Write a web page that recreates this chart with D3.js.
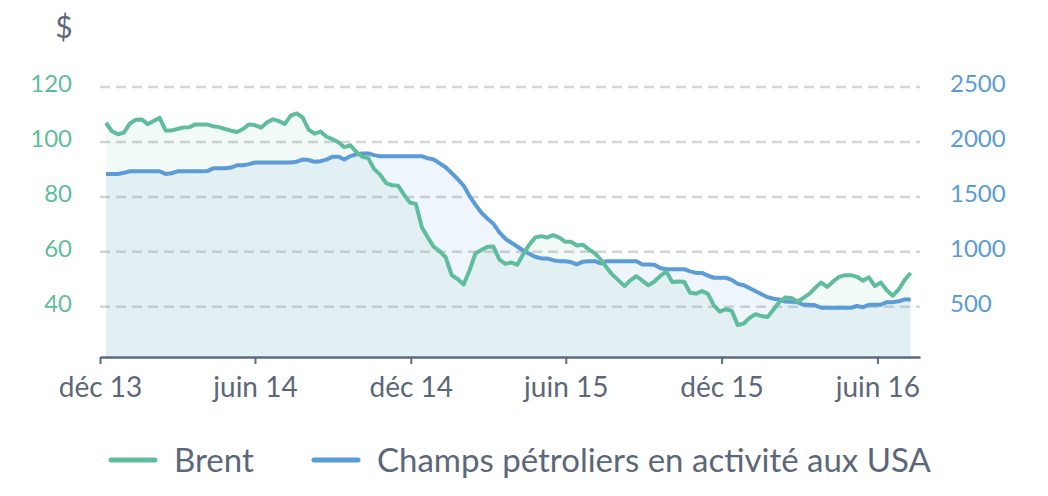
<!DOCTYPE html>
<html>
<head>
<meta charset="utf-8">
<script src="https://cdn.jsdelivr.net/npm/d3@7"></script>
<style>
  body { margin: 0; background: #fff; }
  svg text { font-family: "Source Sans Pro", Lato, sans-serif; }
</style>
</head>
<body>
<div id="chart"></div>
<script>

// weekly series, first week ending 8 Dec 2013
var first_week = new Date(2013, 11, 8);

var brent = [107.0, 103.9, 102.8, 103.4, 106.7, 108.1, 108.2, 106.5, 107.6, 108.8,
    104.2, 104.2, 104.7, 105.3, 105.4, 106.4, 106.4, 106.4, 105.7, 105.4,
    104.7, 104.1, 103.6, 104.7, 106.4, 106.1, 105.2, 107.1, 108.3, 107.6,
    106.6, 109.6, 110.4, 108.9, 104.5, 103.0, 103.8, 101.9, 101.0, 99.9,
    98.1, 98.8, 96.4, 94.6, 94.1, 90.1, 88.1, 85.0, 84.2, 84.1,
    80.8, 77.9, 77.4, 68.9, 65.2, 61.8, 60.2, 58.0, 51.5, 50.1,
    48.1, 53.2, 59.5, 60.7, 61.8, 61.9, 57.2, 55.6, 56.1, 55.3,
    59.1, 62.5, 65.2, 65.7, 65.2, 66.1, 65.3, 63.7, 63.7, 62.3,
    62.6, 60.9, 59.5, 57.2, 54.3, 51.6, 49.6, 47.5, 49.7, 51.1,
    49.5, 47.8, 49.2, 51.2, 52.8, 49.0, 49.2, 49.1, 45.1, 44.8,
    45.7, 44.7, 40.4, 38.2, 39.1, 38.5, 33.3, 33.9, 36.0, 37.3,
    36.6, 36.3, 39.0, 41.8, 43.4, 43.2, 41.8, 43.2, 44.7, 46.9,
    48.8, 47.2, 49.2, 50.9, 51.5, 51.5, 50.9, 49.5, 50.7, 47.5,
    48.8, 46.0, 44.0, 46.3, 49.8, 52.3];

var rigs = [1709, 1709, 1709, 1719, 1733, 1733, 1733, 1733, 1733, 1733,
    1709, 1715, 1733, 1733, 1733, 1733, 1733, 1735, 1760, 1760,
    1760, 1767, 1788, 1788, 1798, 1813, 1813, 1813, 1813, 1813,
    1813, 1813, 1820, 1840, 1836, 1819, 1825, 1839, 1866, 1866,
    1840, 1871, 1887, 1895, 1895, 1880, 1870, 1870, 1870, 1870,
    1870, 1870, 1870, 1870, 1851, 1840, 1805, 1770, 1716, 1663,
    1603, 1508, 1427, 1355, 1303, 1256, 1177, 1119, 1083, 1048,
    1012, 983, 955, 940, 940, 924, 915, 915, 907, 886,
    910, 915, 915, 895, 915, 915, 915, 915, 915, 915,
    885, 885, 882, 852, 842, 842, 842, 842, 822, 808,
    808, 782, 764, 764, 764, 745, 708, 695, 669, 641,
    614, 587, 573, 565, 548, 545, 542, 518, 518, 513,
    491, 491, 491, 491, 491, 491, 507, 496, 517, 518,
    518, 542, 542, 549, 567, 567];

var left_ticks = [40, 60, 80, 100, 120];
var right_ticks = [500, 1000, 1500, 2000, 2500];
var x_ticks = [new Date(2013, 11, 1), new Date(2014, 5, 1), new Date(2014, 11, 1),
    new Date(2015, 5, 1), new Date(2015, 11, 1), new Date(2016, 5, 1)];
var month_names = ["janv", "févr", "mars", "avr", "mai", "juin", "juil", "août", "sept", "oct", "nov", "déc"];

var series_names = ["Brent", "Champs pétroliers en activité aux USA"];
var colors = ["#5fbd9d", "#5b9bd6"];
var text_color = "#5b677a";

var weeks = d3.range(brent.length).map(function(i){ return d3.timeDay.offset(first_week, 7 * i); });
var df = weeks.map(function(d, i){ return {date: d, brent: brent[i], rigs: rigs[i]}; });

const margin = {top: 70, right: 128, bottom: 139, left: 100},
    width = 1048 - margin.left - margin.right,
    height = 496 - margin.top - margin.bottom;

const svg = d3.select("#chart")
    .append("svg")
    .attr("width", 1048)
    .attr("height", 496)
    .append("g")
    .attr("transform", "translate(" + margin.left + "," + margin.top + ")");

var xScale = d3.scaleTime()
    .domain([new Date(2013, 11, 1), new Date(2016, 6, 21)])
    .range([0, width]);

// brent on the left, rigs on the right: 40$ <-> 500, 120$ <-> 2500
var yLeft = d3.scaleLinear()
    .domain([21.7, 126.2])
    .range([height, 0]);

var yRight = d3.scaleLinear()
    .domain(yLeft.domain().map(function(v){ return v * 25 - 500; }))
    .range([height, 0]);

// grid
svg.append("g")
    .selectAll("line.grid")
    .data(left_ticks)
    .enter()
    .append("line")
    .attr("class", "grid")
    .attr("x1", 0)
    .attr("x2", width)
    .attr("y1", function(d){ return yLeft(d); })
    .attr("y2", function(d){ return yLeft(d); })
    .style("stroke", "#d4d4d4")
    .style("stroke-width", 2.5)
    .style("stroke-dasharray", "10,6");

// areas
var area_brent = d3.area()
    .x(function(d){ return xScale(d.date); })
    .y0(height)
    .y1(function(d){ return yLeft(d.brent); });

var area_rigs = d3.area()
    .x(function(d){ return xScale(d.date); })
    .y0(height)
    .y1(function(d){ return yRight(d.rigs); });

svg.append("path")
    .datum(df)
    .attr("d", area_brent)
    .style("fill", colors[0])
    .style("fill-opacity", 0.08);

svg.append("path")
    .datum(df)
    .attr("d", area_rigs)
    .style("fill", colors[1])
    .style("fill-opacity", 0.1);

// lines
var line_rigs = d3.line()
    .x(function(d){ return xScale(d.date); })
    .y(function(d){ return yRight(d.rigs); });

var line_brent = d3.line()
    .x(function(d){ return xScale(d.date); })
    .y(function(d){ return yLeft(d.brent); });

svg.append("path")
    .datum(df)
    .attr("d", line_rigs)
    .style("fill", "none")
    .style("stroke", colors[1])
    .style("stroke-width", 4)
    .style("stroke-linejoin", "round");

svg.append("path")
    .datum(df)
    .attr("d", line_brent)
    .style("fill", "none")
    .style("stroke", colors[0])
    .style("stroke-width", 4)
    .style("stroke-linejoin", "round");

// x axis
var x_axis = svg.append("g")
    .attr("class", "x-axis")
    .attr("transform", "translate(0," + height + ")")
    .call(d3.axisBottom(xScale)
        .tickValues(x_ticks)
        .tickSize(7)
        .tickSizeOuter(0)
        .tickPadding(13)
        .tickFormat(function(d){
            return month_names[d.getMonth()] + " " + String(d.getFullYear()).slice(2);
        }));

x_axis.select(".domain").style("stroke", "#5a6a80").style("stroke-width", 2.5);
x_axis.selectAll(".tick line").style("stroke", "#5a6a80").style("stroke-width", 2);
x_axis.selectAll(".tick text")
    .style("font-size", "28px")
    .style("fill", text_color);

// y axes
var y_left = svg.append("g")
    .attr("class", "y-axis")
    .call(d3.axisLeft(yLeft).tickValues(left_ticks).tickSize(0).tickPadding(28));
y_left.select(".domain").remove();
y_left.selectAll("text").style("font-size", "24px").style("fill", colors[0]).attr("dy", "0.2em");

var y_right = svg.append("g")
    .attr("class", "y-axis")
    .attr("transform", "translate(" + width + ",0)")
    .call(d3.axisRight(yRight).tickValues(right_ticks).tickSize(0).tickPadding(30).tickFormat(d3.format("d")));
y_right.select(".domain").remove();
y_right.selectAll("text").style("font-size", "24px").style("fill", colors[1]).attr("dy", "0.2em");

svg.append("text")
    .attr("x", -36)
    .attr("y", -32)
    .attr("text-anchor", "middle")
    .style("font-size", "30px")
    .style("fill", text_color)
    .text("$");

// legend
var legend_x = [111, 314];
var legend = svg.append("g")
    .attr("transform", "translate(" + (-margin.left) + "," + (460 - margin.top) + ")");

legend.selectAll("line")
    .data(series_names)
    .enter()
    .append("line")
    .attr("x1", function(d, i){ return legend_x[i]; })
    .attr("x2", function(d, i){ return legend_x[i] + 44; })
    .attr("y1", 0)
    .attr("y2", 0)
    .style("stroke", function(d, i){ return colors[i]; })
    .style("stroke-width", 5)
    .style("stroke-linecap", "round");

legend.selectAll("text")
    .data(series_names)
    .enter()
    .append("text")
    .attr("x", function(d, i){ return legend_x[i] + 63; })
    .attr("y", 0)
    .attr("dy", "0.35em")
    .style("font-size", "33px")
    .style("fill", text_color)
    .text(function(d){ return d; });

</script>
</body>
</html>
